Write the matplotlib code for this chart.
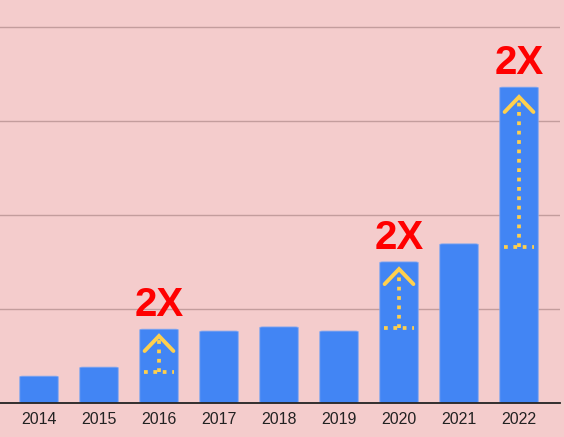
import matplotlib
matplotlib.use("Agg")
import matplotlib.pyplot as plt
from matplotlib.patches import FancyBboxPatch

years = ["2014", "2015", "2016", "2017", "2018", "2019", "2020", "2021", "2022"]
values = [7.0, 9.4, 19.5, 19.0, 20.1, 19.0, 37.4, 42.2, 83.9]

# doubling markers: bar index, start level, arrow tip level
jump_idx = [2, 6, 8]
jump_from = [8.1, 19.8, 41.3]
jump_to = [17.7, 35.5, 81.3]
jump_text = ["2X", "2X", "2X"]

bg = "#f4cccc"
blue = "#4285f4"
gold = "#ffd04d"

fig = plt.figure(figsize=(5.64, 4.37), dpi=100, facecolor=bg)
ax = fig.add_axes([0, (437 - 402.5) / 437, 560 / 564, 402.5 / 437])
ax.set_facecolor(bg)

xs = list(range(len(years)))
bw = 0.64
for x, v in zip(xs, values):
    ax.add_patch(FancyBboxPatch((x - bw / 2, 0), bw, v,
                                boxstyle="round,pad=0,rounding_size=0.05",
                                mutation_aspect=3.7,
                                fc=blue, ec="#7fa6f0", lw=0.6, zorder=3))

ax.set_xlim(-0.65, 8.683)
ax.set_ylim(0, 107.1)
ax.set_yticks([25, 50, 75, 100])
ax.set_yticklabels([])
ax.tick_params(axis="y", length=0)
ax.grid(axis="y", color="#c39d9d", lw=1.0, zorder=0)
ax.set_xticks(xs)
ax.set_xticklabels(years, fontsize=11.5, family="Liberation Sans", color="#222222")
ax.tick_params(axis="x", length=0, pad=7)
for s in ["top", "right", "left"]:
    ax.spines[s].set_visible(False)
ax.spines["bottom"].set_color("#222222")
ax.spines["bottom"].set_linewidth(1.3)
ax.spines["bottom"].set_zorder(5)

for i, lo, hi, t in zip(jump_idx, jump_from, jump_to, jump_text):
    ax.plot([i - 0.25, i + 0.25], [lo, lo], color=gold, lw=2.7,
            ls=(0, (1, 1.5)), zorder=4)
    ax.plot([i, i], [lo, hi], color=gold, lw=2.7, ls=(0, (1, 1.5)), zorder=4)
    ax.plot([i - 0.24, i, i + 0.24], [hi - 4.0, hi, hi - 4.0], color=gold,
            lw=2.8, solid_capstyle="round", solid_joinstyle="miter", zorder=4)
    ax.text(i, values[i] + 1.3, t, ha="center", va="bottom", color="#ff0000",
            fontsize=29, fontweight="bold", family="Liberation Sans", zorder=5)

fig.savefig("out.png", dpi=100, facecolor=bg)
